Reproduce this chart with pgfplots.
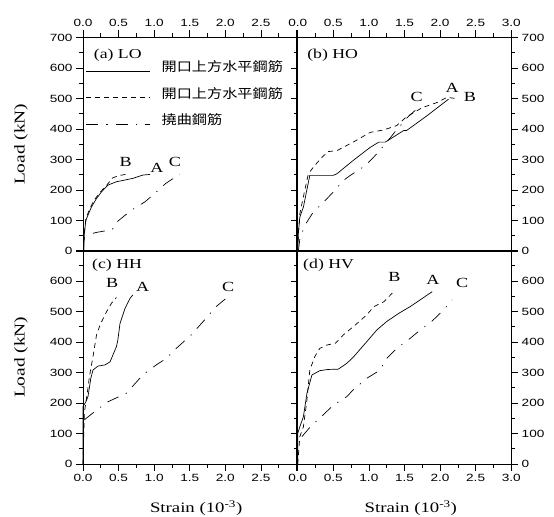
\documentclass[border=0pt]{standalone}
\usepackage{fontspec}
\setmainfont{Liberation Serif}
\newfontfamily\serifw{Liberation Serif}[FakeStretch=1.3]
\newfontfamily\ticksf{Liberation Sans}[FakeStretch=1.3]
\newfontfamily\cjkf{Noto Sans CJK TC}[FakeStretch=1.17]
\usepackage{pgfplots}
\pgfplotsset{compat=1.18}
\pgfplotsset{
  panel/.style={
    width=213.5bp, height=213.5bp, scale only axis, clip=false,
    xmin=0, xmax=3, ymin=0, ymax=700,
    xtick={0,0.5,1,1.5,2,2.5,3}, ytick={0,100,200,300,400,500,600,700},
    minor x tick num=1, minor y tick num=1,
    tick align=outside, major tick length=7bp, minor tick length=4bp,
    every tick/.style={black, line width=0.6pt},
    axis line style={black, line width=0.8pt},
    tick label style={font=\ticksf\fontsize{10.5}{12}\selectfont},
    /pgf/number format/assume math mode=true,
  },
}
\tikzset{
  sA/.style={black, line width=0.7pt},
  sB/.style={black, line width=0.7pt, dash pattern=on 5bp off 4bp},
  sC/.style={black, line width=0.7pt, dash pattern=on 12bp off 8bp on 1.2bp off 8bp},
  ptl/.style={font=\serifw\fontsize{14}{14}\selectfont, inner sep=0pt},
  pnl/.style={font=\serifw\fontsize{13.7}{14}\selectfont, inner sep=0pt, anchor=west},
  ylab/.style={at={(axis description cs:-0.29,0.5)}, rotate=90, anchor=center, font=\serifw\fontsize{15}{15}\selectfont},
  xlab/.style={at={(axis description cs:0.53,-0.206)}, anchor=center, font=\serifw\fontsize{14.5}{15}\selectfont},
}
\begin{document}
\begin{tikzpicture}
% (a) LO
\begin{axis}[panel, at={(83bp,266bp)}, anchor=south west,
  xtick pos=right, xticklabel pos=right, ytick pos=left,
  xticklabels={0.0,0.5,1.0,1.5,2.0,2.5,},
  ylabel={Load (kN)},
  every axis y label/.style={ylab},
  legend style={at={(rel axis cs:0.014,0.89)}, anchor=north west, draw=none, fill=none,
    inner sep=0pt, outer sep=0pt, row sep=14bp, nodes={inner sep=0pt},
    font=\cjkf\fontsize{13}{13}\selectfont, cells={anchor=west}},
  legend image code/.code={\draw[#1] (0bp,-4bp) -- (64bp,-4bp); \path (75bp,0bp);},
]
\addplot[sA] coordinates {(0.01,0) (0.02,60) (0.04,100) (0.06,112) (0.12,145) (0.19,172) (0.26,194) (0.35,216) (0.47,227) (0.70,238) (0.84,249) (0.94,251)};
\addplot[sB] coordinates {(0.01,0) (0.02,60) (0.04,105) (0.08,130) (0.15,165) (0.25,195) (0.33,215) (0.42,240) (0.50,247) (0.62,252)};
\addplot[sC] coordinates {(0.14,58) (0.19,61) (0.41,70) (0.48,96) (0.68,134) (0.87,161) (0.99,185) (1.16,221) (1.36,252)};
\legend{開口上方水平鋼筋,開口上方水平鋼筋,撓曲鋼筋}
\node[pnl] at (rel axis cs:0.05,0.918) {(a) LO};
\node[ptl] at (axis cs:1.04,272) {A};
\node[ptl] at (axis cs:0.60,292) {B};
\node[ptl] at (axis cs:1.29,292) {C};
\end{axis}
% (b) HO
\begin{axis}[panel, at={(297.7bp,266bp)}, anchor=south west,
  xtick pos=right, xticklabel pos=right, ytick pos=both, yticklabel pos=right,
  xticklabels={0.0,0.5,1.0,1.5,2.0,2.5,3.0},
]
\addplot[sA] coordinates {(0,0) (0.01,60) (0.03,111) (0.08,144) (0.17,248) (0.50,248) (0.55,253) (0.78,297) (1.02,340) (1.14,357) (1.23,357) (1.49,395) (1.53,395) (1.82,444) (2.12,498)};
\addplot[sB] coordinates {(0,0) (0.01,60) (0.03,122) (0.10,200) (0.15,253) (0.22,275) (0.34,307) (0.43,326) (0.55,329) (0.78,357) (1.02,389) (1.21,397) (1.39,411) (1.53,440) (1.75,470) (1.96,487) (2.10,504) (2.22,500)};
\addplot[sC] coordinates {(0.01,0) (0.03,40) (0.10,84) (0.22,128) (0.34,155) (0.50,193) (0.64,231) (0.74,248) (0.95,280) (1.11,318) (1.23,351) (1.40,400) (1.55,440) (1.70,471)};
\node[pnl] at (rel axis cs:0.044,0.918) {(b) HO};
\node[ptl] at (axis cs:2.17,534) {A};
\node[ptl] at (axis cs:2.42,505) {B};
\node[ptl] at (axis cs:1.67,506) {C};
\end{axis}
% (c) HH
\begin{axis}[panel, at={(83bp,53bp)}, anchor=south west,
  xtick pos=left, ytick pos=left,
  xticklabels={0.0,0.5,1.0,1.5,2.0,2.5,},
  yticklabels={0,100,200,300,400,500,600,},
  ylabel={Load (kN)},
  every axis y label/.style={ylab},
  xlabel={Strain (10\textsuperscript{-3})},
  every axis x label/.style={xlab},
]
\addplot[sA] coordinates {(0,0) (0,188) (0.04,204) (0.07,221) (0.11,281) (0.14,308) (0.21,321) (0.31,325) (0.38,335) (0.47,385) (0.49,407) (0.52,461) (0.59,510) (0.66,543) (0.70,554)};
\addplot[sB] coordinates {(0,0) (0.02,170) (0.06,232) (0.09,286) (0.14,352) (0.19,423) (0.24,456) (0.33,499) (0.40,527) (0.47,546)};
\addplot[sC] coordinates {(0.02,145) (0.19,177) (0.35,204) (0.61,232) (0.84,292) (1.03,325) (1.17,346) (1.31,379) (1.52,423) (1.73,478) (1.87,516) (2.01,543)};
\node[pnl] at (rel axis cs:0.042,0.932) {(c) HH};
\node[ptl] at (axis cs:0.84,580) {A};
\node[ptl] at (axis cs:0.41,593) {B};
\node[ptl] at (axis cs:2.04,580) {C};
\end{axis}
% (d) HV
\begin{axis}[panel, at={(297.7bp,53bp)}, anchor=south west,
  xtick pos=left, ytick pos=both, yticklabel pos=right,
  xticklabels={0.0,0.5,1.0,1.5,2.0,2.5,3.0},
  yticklabels={0,100,200,300,400,500,600,},
  xlabel={Strain (10\textsuperscript{-3})},
  every axis x label/.style={xlab},
]
\addplot[sA] coordinates {(0,0) (0,100) (0.03,122) (0.08,155) (0.13,232) (0.20,292) (0.24,297) (0.31,306) (0.43,310) (0.57,311) (0.69,330) (0.78,350) (0.97,401) (1.11,439) (1.25,467) (1.42,494) (1.58,516) (1.72,538) (1.89,565)};
\addplot[sB] coordinates {(0,0) (0.03,90) (0.08,122) (0.13,210) (0.17,308) (0.24,352) (0.31,379) (0.41,390) (0.53,396) (0.64,423) (0.81,456) (0.97,489) (1.07,516) (1.21,532) (1.35,565)};
\addplot[sC] coordinates {(0.06,90) (0.20,128) (0.31,150) (0.50,193) (0.69,221) (0.78,243) (0.97,281) (1.16,308) (1.23,341) (1.39,379) (1.58,412) (1.72,439) (1.89,469) (2.05,505) (2.17,538)};
\node[pnl] at (rel axis cs:0.025,0.932) {(d) HV};
\node[ptl] at (axis cs:1.90,603) {A};
\node[ptl] at (axis cs:1.36,613) {B};
\node[ptl] at (axis cs:2.31,593) {C};
\end{axis}
\pgfresetboundingbox
\useasboundingbox (0bp,0bp) rectangle (554bp,517bp);
\end{tikzpicture}
\end{document}
